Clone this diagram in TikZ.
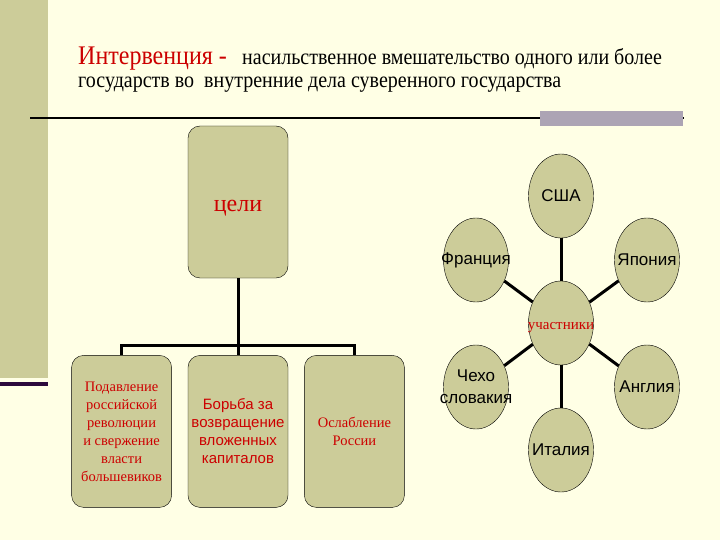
\documentclass[tikz,border=0pt]{standalone}
\usepackage{fontspec}
\setmainfont{Liberation Serif}
\newfontfamily\arialfont{Liberation Sans}
\usetikzlibrary{shapes,positioning,calc}
\definecolor{paper}{RGB}{255,255,229}
\definecolor{olive1}{RGB}{204,204,153}
\definecolor{gray1}{RGB}{172,164,180}
\definecolor{purple1}{RGB}{45,10,60}
\definecolor{red1}{RGB}{204,0,0}
\newcommand{\narrowtext}[1]{\makebox[0pt]{#1}}

\begin{document}
\begin{tikzpicture}[x=1pt, y=-1pt, node distance=16pt,
    goalbox/.style={draw, fill=olive1, rounded corners=12pt, minimum width=100pt, minimum height=152pt, inner sep=0pt, align=center, text=red1},
    country/.style={draw, ellipse, fill=olive1, minimum width=65pt, minimum height=84pt, inner sep=0pt, align=center, font=\arialfont\fontsize{17}{22}\selectfont},
    link/.style={line width=3pt}]
    % slide background
    \fill[paper] (0,0) rectangle (720,540);
    \useasboundingbox (0,0) rectangle (720,540);
    \fill[olive1] (0,0) rectangle (48,378);
    \fill[purple1] (0,382) rectangle (48,386);
    \draw[line width=2pt] (30,118) -- (684,118);
    \fill[gray1] (540,111) rectangle (683,126);

    % definition
    \node[anchor=base west, inner sep=0pt, text=red1, font=\fontsize{24}{28}\selectfont] (term) at (78,65) {\scalebox{1}[1.12]{Интервенция -}};
    \node[anchor=base west, inner sep=0pt, font=\fontsize{20}{24}\selectfont] (meaning) at (242,65) {\scalebox{1}[1.12]{насильственное вмешательство одного или более}};
    \node[anchor=base west, inner sep=0pt, font=\fontsize{20}{24}\selectfont] (meaning2) at (78,88) {\scalebox{1}[1.12]{государств во\ \ внутренние дела суверенного государства}};

    % goals tree
    \node[goalbox, label={[yshift=-6pt, text=red1, font=\fontsize{24}{28}\selectfont]center:цели}] (goals) at (238,202) {};
    \node[goalbox, below=77pt of goals, font=\arialfont\fontsize{15}{18}\selectfont] (aim2) {Борьба за\\возвращение\\вложенных\\капиталов};
    \node[goalbox, left=of aim2, font=\fontsize{14.5}{18}\selectfont] (aim1) {Подавление\\российской\\революции\\и свержение\\власти\\большевиков};
    \node[goalbox, right=of aim2, font=\fontsize{14.5}{18}\selectfont] (aim3) {Ослабление\\России};
    \coordinate (fork) at ($(goals.south)+(0,67)$);
    \draw[link] (goals) -- (fork);
    \draw[link] (fork) -| (aim1);
    \draw[link] (fork) -- (aim2);
    \draw[link] (fork) -| (aim3);

    % participants
    \node[country, label={[yshift=-5pt, text=red1, font=\fontsize{15}{18}\selectfont]center:участники}] (members) at (561,323) {};
    \node[country] (usa) at (561,196) {\narrowtext{США}};
    \node[country] (france) at (476,260) {\narrowtext{Франция}};
    \node[country] (japan) at (647,260) {\narrowtext{Япония}};
    \node[country] (czech) at (476,387) {\narrowtext{Чехо}\\\narrowtext{словакия}};
    \node[country] (england) at (647,387) {\narrowtext{Англия}};
    \node[country] (italy) at (561,450) {\narrowtext{Италия}};
    \foreach \c in {usa,france,japan,czech,england,italy}
        \draw[link] (members) -- (\c);
\end{tikzpicture}
\end{document}
